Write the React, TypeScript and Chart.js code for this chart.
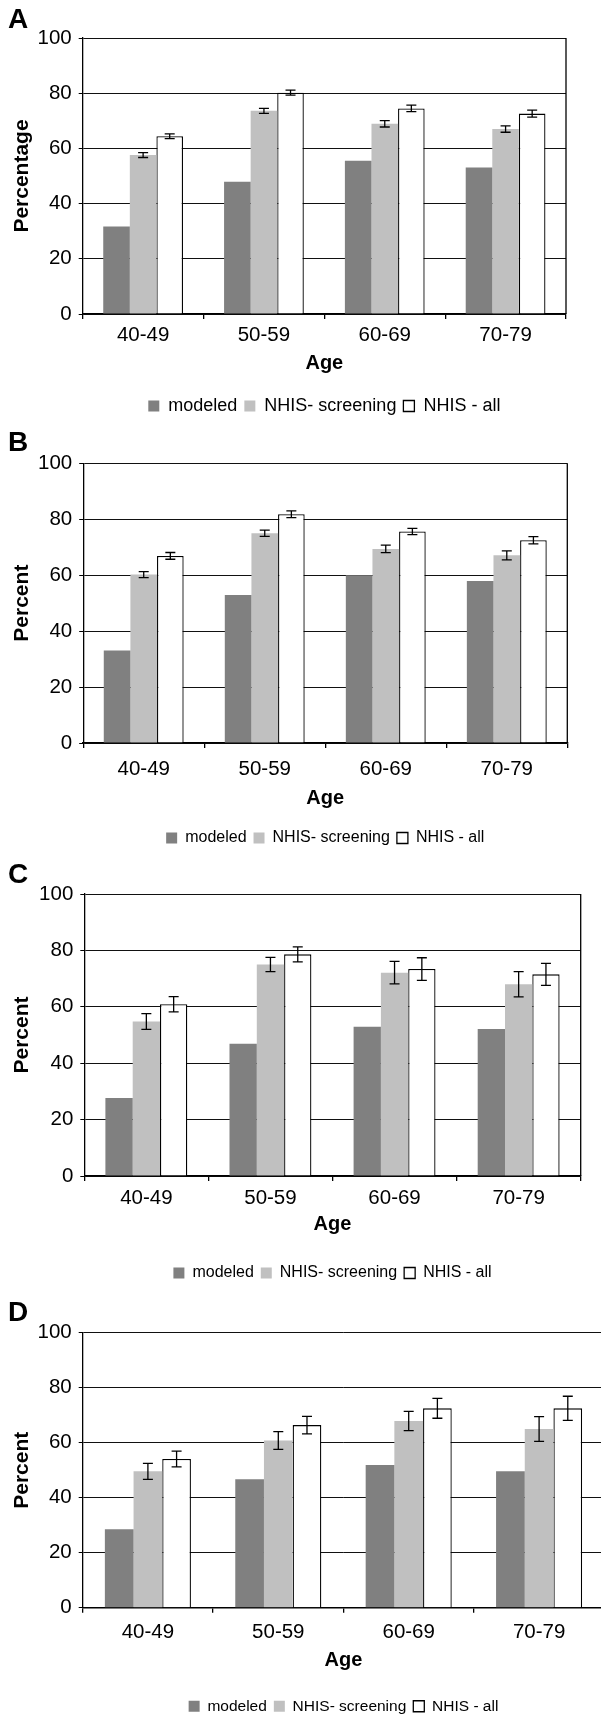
import React, { useEffect, useRef } from "react";
import { Chart, registerables } from "chart.js";

Chart.register(...registerables);

const FONT = "'Liberation Sans', Arial, Helvetica, sans-serif";

const ageGroups = ["40-49", "50-59", "60-69", "70-79"];
const seriesNames = ["modeled", "NHIS- screening", "NHIS - all"];
const yTicks = [0, 20, 40, 60, 80, 100];

// Panel A
const modeledA = [31.7, 47.9, 55.5, 53.1];
const screeningA = [57.6, 73.6, 68.9, 67.0];
const screeningErrA = [0.9, 0.9, 1.15, 1.15];
const allA = [64.4, 80.2, 74.5, 72.6];
const allErrA = [0.85, 0.9, 1.15, 1.25];

// Panel B
const modeledB = [33.1, 52.9, 60.0, 57.9];
const screeningB = [60.2, 75.0, 69.4, 67.1];
const screeningErrB = [1.1, 1.1, 1.35, 1.6];
const allB = [66.9, 81.8, 75.6, 72.5];
const allErrB = [1.2, 1.2, 1.1, 1.3];

// Panel C
const modeledC = [27.7, 46.9, 52.9, 52.1];
const screeningC = [54.8, 75.0, 72.1, 68.0];
const screeningErrC = [2.8, 2.5, 4.0, 4.5];
const allC = [60.9, 78.6, 73.4, 71.5];
const allErrC = [2.7, 2.65, 4.0, 3.9];

// Panel D
const modeledD = [28.5, 46.7, 51.9, 49.6];
const screeningD = [49.6, 60.8, 67.9, 65.0];
const screeningErrD = [2.9, 3.2, 3.5, 4.5];
const allD = [54.1, 66.4, 72.5, 72.5];
const allErrD = [2.85, 3.2, 3.6, 4.4];

type PanelCfg = {
  letter: string;
  yTitle: string;
  top: number;
  width: number;
  height: number;
  modeled: number[];
  screening: number[];
  screeningErr: number[];
  all: number[];
  allErr: number[];
  titlePadTop: number;
  titlePadBottom: number;
  padRight: number;
  yWidth: number;
  xTickPad: number;
  xHeight: number;
  ageBottom: number;
  legendFont: number;
  legendPad: number;
  whiteBg?: boolean;
};

const panels: PanelCfg[] = [
  {
    letter: "A", yTitle: "Percentage", top: 0, width: 601, height: 425,
    modeled: modeledA, screening: screeningA, screeningErr: screeningErrA, all: allA, allErr: allErrA,
    titlePadTop: 6, titlePadBottom: 4, padRight: 35, yWidth: 74.7, xTickPad: 4.1, xHeight: 76,
    ageBottom: 15, legendFont: 18, legendPad: 7,
  },
  {
    letter: "B", yTitle: "Percent", top: 424, width: 601, height: 432,
    modeled: modeledB, screening: screeningB, screeningErr: screeningErrB, all: allB, allErr: allErrB,
    titlePadTop: 5, titlePadBottom: 6.3, padRight: 33.7, yWidth: 75.2, xTickPad: 9.4, xHeight: 80,
    ageBottom: 13, legendFont: 16, legendPad: 7,
  },
  {
    letter: "C", yTitle: "Percent", top: 850, width: 601, height: 441,
    modeled: modeledC, screening: screeningC, screeningErr: screeningErrC, all: allC, allErr: allErrC,
    titlePadTop: 11, titlePadBottom: 5, padRight: 20.3, yWidth: 76.3, xTickPad: 4.7, xHeight: 82,
    ageBottom: 21.3, legendFont: 16, legendPad: 7,
  },
  {
    letter: "D", yTitle: "Percent", top: 1283, width: 620, height: 441,
    modeled: modeledD, screening: screeningD, screeningErr: screeningErrD, all: allD, allErr: allErrD,
    titlePadTop: 16.3, titlePadBottom: 5.4, padRight: 15.7, yWidth: 74.7, xTickPad: 7.4, xHeight: 83.75,
    ageBottom: 19.25, legendFont: 15.5, legendPad: 7, whiteBg: true,
  },
];

const errorBarPlugin = {
  id: "errorBars",
  afterDatasetsDraw(chart: any) {
    const ctx = chart.ctx;
    const y = chart.scales.y;
    chart.data.datasets.forEach((ds: any, i: number) => {
      const errs = ds.errorBars;
      if (!errs) return;
      const meta = chart.getDatasetMeta(i);
      meta.data.forEach((bar: any, j: number) => {
        const v = ds.data[j];
        const e = errs[j];
        const yTop = y.getPixelForValue(v + e);
        const yBot = y.getPixelForValue(v - e);
        const x = bar.x;
        const hw = 5;
        ctx.save();
        ctx.strokeStyle = "#000";
        ctx.lineWidth = 1.3;
        ctx.beginPath();
        ctx.moveTo(x, yTop);
        ctx.lineTo(x, yBot);
        ctx.moveTo(x - hw, yTop);
        ctx.lineTo(x + hw, yTop);
        ctx.moveTo(x - hw, yBot);
        ctx.lineTo(x + hw, yBot);
        ctx.stroke();
        ctx.restore();
      });
    });
  },
};

const framePlugin = {
  id: "frameRight",
  afterDatasetsDraw(chart: any) {
    const { ctx, chartArea } = chart;
    ctx.save();
    ctx.strokeStyle = "#000";
    ctx.lineWidth = 1.3;
    ctx.beginPath();
    ctx.moveTo(chartArea.right, chartArea.top);
    ctx.lineTo(chartArea.right, chartArea.bottom);
    ctx.stroke();
    ctx.restore();
  },
};

function Panel({ cfg }: { cfg: PanelCfg }) {
  const ref = useRef<HTMLCanvasElement | null>(null);
  useEffect(() => {
    if (!ref.current) return;
    const chart = new Chart(ref.current, {
      type: "bar",
      data: {
        labels: ageGroups,
        datasets: [
          { label: seriesNames[0], data: cfg.modeled, backgroundColor: "#808080", borderWidth: 0 } as any,
          { label: seriesNames[1], data: cfg.screening, backgroundColor: "#c0c0c0", borderWidth: 0, errorBars: cfg.screeningErr } as any,
          { label: seriesNames[2], data: cfg.all, backgroundColor: "#ffffff", borderColor: "#000000", borderWidth: 1.3, errorBars: cfg.allErr } as any,
        ],
      },
      options: {
        responsive: false,
        animation: false,
        devicePixelRatio: 1,
        layout: { padding: { left: 8, right: cfg.padRight, top: 0, bottom: 0 } },
        datasets: { bar: { categoryPercentage: 0.66, barPercentage: 1 } },
        plugins: {
          title: {
            display: true,
            text: cfg.letter,
            align: "start",
            color: "#000",
            font: { family: FONT, size: 28, weight: "bold", lineHeight: 1 },
            padding: { top: cfg.titlePadTop, bottom: cfg.titlePadBottom },
          },
          legend: {
            display: true,
            position: "bottom",
            fullSize: false,
            labels: {
              color: "#000",
              font: { family: FONT, size: cfg.legendFont },
              boxWidth: 11,
              boxHeight: 11,
              padding: cfg.legendPad,
            },
          },
          tooltip: { enabled: false },
        },
        scales: {
          x: {
            type: "category",
            offset: true,
            grid: {
              display: true,
              drawOnChartArea: false,
              drawTicks: true,
              tickLength: 5,
              color: "#000",
              tickColor: "#000",
              lineWidth: 1.3,
              offset: true,
            },
            border: { display: true, color: "#000", width: 1.5 },
            ticks: { color: "#000", font: { family: FONT, size: 20.5 }, padding: cfg.xTickPad, maxRotation: 0, autoSkip: false },
            title: {
              display: true,
              text: "Age",
              color: "#000",
              font: { family: FONT, size: 20, weight: "bold", lineHeight: 1.2 },
              padding: { top: 0, bottom: cfg.ageBottom },
            },
            afterFit: (s: any) => {
              s.height = cfg.xHeight;
            },
          },
          y: {
            min: 0,
            max: 100,
            afterBuildTicks: (s: any) => {
              s.ticks = yTicks.map((v) => ({ value: v }));
            },
            ticks: { color: "#000", font: { family: FONT, size: 20.5 }, padding: 7 },
            grid: { color: "#111", lineWidth: 1, drawTicks: true, tickLength: 4, tickColor: "#000" },
            border: { display: true, color: "#000", width: 1.3 },
            title: {
              display: true,
              text: cfg.yTitle,
              color: "#000",
              font: { family: FONT, size: 21, weight: "bold", lineHeight: 1.2 },
              padding: { top: 2, bottom: 0 },
            },
            afterFit: (s: any) => {
              s.width = cfg.yWidth;
            },
          },
        },
      } as any,
      plugins: [errorBarPlugin, framePlugin],
    });
    return () => chart.destroy();
  }, [cfg]);
  return (
    <canvas
      ref={ref}
      width={cfg.width}
      height={cfg.height}
      style={{
        position: "absolute",
        left: 0,
        top: cfg.top,
        width: cfg.width,
        height: cfg.height,
        background: cfg.whiteBg ? "#ffffff" : "transparent",
      }}
    />
  );
}

export default function App() {
  useEffect(() => {
    document.body.style.margin = "0";
    document.body.style.overflow = "hidden";
  }, []);
  return (
    <div
      style={{
        position: "absolute",
        left: 0,
        top: 0,
        width: 601,
        height: 1716,
        overflow: "hidden",
        background: "#ffffff",
      }}
    >
      {panels.map((p) => (
        <Panel key={p.letter} cfg={p} />
      ))}
    </div>
  );
}
